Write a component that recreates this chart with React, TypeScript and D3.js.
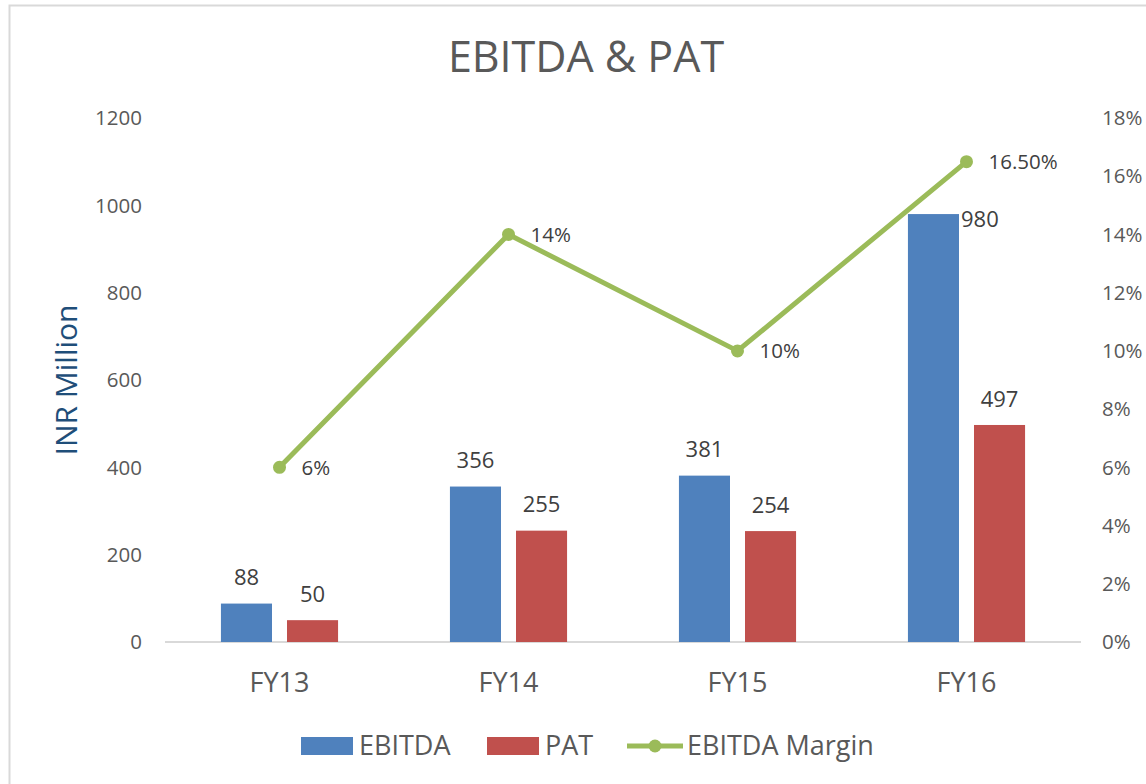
import React from 'react';
import * as d3 from 'd3';

const years = ['FY13', 'FY14', 'FY15', 'FY16'];
const ebitda = [88, 356, 381, 980];
const pat = [50, 255, 254, 497];
const margin = [6, 14, 10, 16.5];
const marginLabels = ['6%', '14%', '10%', '16.50%'];
const leftTicks = [0, 200, 400, 600, 800, 1000, 1200];
const rightTicks = [0, 2, 4, 6, 8, 10, 12, 14, 16, 18];
const seriesNames = ['EBITDA', 'PAT'];

const width = 1146;
const height = 784;
const plotLeft = 165;
const plotRight = 1081;
const plotTop = 118;
const plotBottom = 642;

const blue = '#4F81BD';
const red = '#C0504D';
const green = '#9BBB59';
const textGrey = '#595959';
const font = '"Open Sans", sans-serif';

export default function App() {
  const x0 = d3.scaleBand().domain(years).range([plotLeft, plotRight]).paddingInner(0.4885).paddingOuter(0.24425);
  const x1 = d3.scaleBand().domain(seriesNames).range([0, x0.bandwidth()]).paddingInner(0.227);
  const yLeft = d3.scaleLinear().domain([0, 1200]).range([plotBottom, plotTop]);
  const yRight = d3.scaleLinear().domain([0, 18]).range([plotBottom, plotTop]);
  const cx = (y: string) => (x0(y) as number) + x0.bandwidth() / 2;

  const line = d3
    .line<number>()
    .x((_, i) => cx(years[i]))
    .y((d) => yRight(d));

  return (
    <div style={{ position: 'absolute', left: 0, top: 0 }}>
      <svg width={width} height={height} style={{ display: 'block', fontFamily: font }}>
        <rect x={0} y={0} width={width} height={height} fill="#fff" />
        <rect x={9.5} y={5.5} width={width + 20} height={height + 20} fill="none" stroke="#D9D9D9" strokeWidth={2} />

        <text x={586} y={72} textAnchor="middle" fontSize={43} fill={textGrey}>
          EBITDA &amp; PAT
        </text>

        <text
          transform={`translate(77, 380) rotate(-90)`}
          textAnchor="middle"
          fontSize={30}
          fill="#1F4E79"
        >
          INR Million
        </text>

        {leftTicks.map((t) => (
          <text key={t} x={142} y={yLeft(t)} dy="0.35em" textAnchor="end" fontSize={20.5} fill={textGrey}>
            {t}
          </text>
        ))}
        {rightTicks.map((t) => (
          <text key={t} x={1102} y={yRight(t)} dy="0.35em" textAnchor="start" fontSize={20.5} fill={textGrey}>
            {t}%
          </text>
        ))}

        <line x1={plotLeft} x2={plotRight} y1={plotBottom} y2={plotBottom} stroke="#D9D9D9" strokeWidth={2} />

        {years.map((yr, i) => {
          const gx = x0(yr) as number;
          const bx = gx + (x1('EBITDA') as number);
          const rx = gx + (x1('PAT') as number);
          const bw = x1.bandwidth();
          const last = i === years.length - 1;
          return (
            <g key={yr}>
              <rect x={bx} y={yLeft(ebitda[i])} width={bw} height={plotBottom - yLeft(ebitda[i])} fill={blue} />
              <rect x={rx} y={yLeft(pat[i])} width={bw} height={plotBottom - yLeft(pat[i])} fill={red} />
              {last ? (
                <text x={bx + bw + 2} y={yLeft(ebitda[i]) + 5} dy="0.35em" fontSize={22} fill="#404040">
                  {ebitda[i]}
                </text>
              ) : (
                <text x={bx + bw / 2} y={yLeft(ebitda[i]) - 26} dy="0.35em" textAnchor="middle" fontSize={22} fill="#404040">
                  {ebitda[i]}
                </text>
              )}
              <text x={rx + bw / 2} y={yLeft(pat[i]) - 26} dy="0.35em" textAnchor="middle" fontSize={22} fill="#404040">
                {pat[i]}
              </text>
              <text x={cx(yr)} y={683} dy="0.35em" textAnchor="middle" fontSize={27} fill={textGrey}>
                {yr}
              </text>
            </g>
          );
        })}

        <path d={line(margin) as string} fill="none" stroke={green} strokeWidth={5} strokeLinejoin="round" />
        {margin.map((m, i) => (
          <g key={i}>
            <circle cx={cx(years[i])} cy={yRight(m)} r={6.5} fill={green} />
            <text x={cx(years[i]) + 22} y={yRight(m)} dy="0.35em" fontSize={20.5} fill="#404040">
              {marginLabels[i]}
            </text>
          </g>
        ))}

        <g fontSize={27} fill={textGrey}>
          <rect x={301} y={737} width={52} height={18} fill={blue} />
          <text x={359} y={746} dy="0.35em">EBITDA</text>
          <rect x={487} y={737} width={52} height={18} fill={red} />
          <text x={545} y={746} dy="0.35em">PAT</text>
          <line x1={627} x2={683} y1={746} y2={746} stroke={green} strokeWidth={5} />
          <circle cx={655} cy={746} r={6.5} fill={green} />
          <text x={687} y={746} dy="0.35em">EBITDA Margin</text>
        </g>
      </svg>
    </div>
  );
}
